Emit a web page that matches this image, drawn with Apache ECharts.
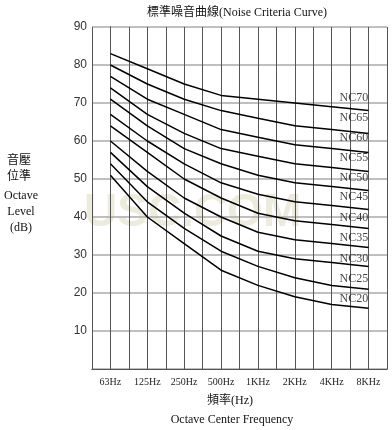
<!DOCTYPE html>
<html>
<head>
<meta charset="utf-8">
<script src="https://cdn.jsdelivr.net/npm/echarts@6/dist/echarts.min.js"></script>
<style>html,body{margin:0;padding:0;background:#fff;}#c{width:392px;height:430px;}</style>
</head>
<body>
<div id="c"></div>
<script>
// Octave band centre frequencies (x positions 0..7)
var freqLabels = ['63Hz', '125Hz', '250Hz', '500Hz', '1KHz', '2KHz', '4KHz', '8KHz'];
// NC curve names
var curveNames = ['NC70', 'NC65', 'NC60', 'NC55', 'NC50', 'NC45', 'NC40', 'NC35', 'NC30', 'NC25', 'NC20'];
// Octave band levels (dB) per curve
var nc70 = [83, 79, 75, 72, 71, 70, 69, 68];
var nc65 = [80, 75, 71, 68, 66, 64, 63, 62];
var nc60 = [77, 71, 67, 63, 61, 59, 58, 57];
var nc55 = [74, 67, 62, 58, 56, 54, 53, 52];
var nc50 = [71, 64, 58, 54, 51, 49, 48, 47];
var nc45 = [67, 60, 54, 49, 46, 44, 43, 42];
var nc40 = [64, 57, 50, 45, 41, 39, 38, 37];
var nc35 = [60, 52, 45, 40, 36, 34, 33, 32];
var nc30 = [57, 48, 41, 35, 31, 29, 28, 27];
var nc25 = [54, 44, 37, 31, 27, 24, 22, 21];
var nc20 = [51, 40, 33, 26, 22, 19, 17, 16];
var curves = [nc70, nc65, nc60, nc55, nc50, nc45, nc40, nc35, nc30, nc25, nc20];
// level (dB) at which each curve's name is written, near 4KHz-8KHz
var labelLevels = [71.35, 66.1, 60.8, 55.5, 50.3, 45.3, 39.9, 34.4, 29.1, 23.8, 18.5];
var labelBand = 6.6;
// y tick labels
var yTicks = [10, 20, 30, 40, 50, 60, 70, 80, 90];

var serif = '"Liberation Serif", "Noto Sans CJK TC", serif';
var series = curves.map(function (vals, i) {
  return {
    type: 'line',
    name: curveNames[i],
    data: vals.map(function (v, k) { return [k, v]; }),
    showSymbol: false,
    symbol: 'none',
    silent: true,
    lineStyle: { color: '#000', width: 1.5 },
    z: 5
  };
});
series.push({
  type: 'scatter',
  symbolSize: 0,
  silent: true,
  data: curveNames.map(function (n, i) { return { name: n, value: [labelBand, labelLevels[i]] }; }),
  label: {
    show: true, position: 'inside', formatter: '{b}',
    fontFamily: serif, fontSize: 12, color: '#111'
  },
  z: 6
});

var chart = echarts.init(document.getElementById('c'), null, { renderer: 'canvas' });
chart.setOption({
  animation: false,
  backgroundColor: '#fff',
  grid: { left: 92, right: 5, top: 27, bottom: 61, containLabel: false },
  xAxis: [{
    type: 'value', min: -0.5, max: 7.5, interval: 0.5,
    axisLine: { show: true, lineStyle: { color: '#555', width: 1 } },
    axisTick: { show: false },
    splitLine: { show: true, lineStyle: { color: '#555', width: 1 } },
    axisLabel: {
      margin: 8, fontFamily: serif, fontSize: 10, color: '#222',
      formatter: function (v) {
        var r = Math.round(v);
        return (Math.abs(v - r) < 1e-6 && r >= 0 && r < freqLabels.length) ? freqLabels[r] : '';
      }
    }
  }, {
    type: 'value', position: 'top', min: -0.5, max: 7.5, interval: 0.5,
    axisLine: { show: true, lineStyle: { color: '#555', width: 1 } },
    axisTick: { show: false }, axisLabel: { show: false }, splitLine: { show: false }, z: 4
  }],
  yAxis: [{
    type: 'value', min: 0, max: 90, interval: 10,
    axisLine: { show: true, lineStyle: { color: '#555', width: 1 } },
    axisTick: { show: false },
    splitLine: { show: true, lineStyle: { color: '#aaa', width: 1.5 } },
    axisLabel: {
      margin: 5, fontFamily: '"Liberation Sans", "DejaVu Sans", sans-serif', fontSize: 12, color: '#333',
      formatter: function (v) { return yTicks.indexOf(v) >= 0 ? String(v) : ''; }
    }
  }, {
    type: 'value', position: 'right', min: 0, max: 90, interval: 10,
    axisLine: { show: true, lineStyle: { color: '#555', width: 1 } },
    axisTick: { show: false }, axisLabel: { show: false }, splitLine: { show: false }, z: 4
  }],
  graphic: [
    { type: 'text', z: -10, left: 84, top: 190,
      style: { text: 'USC.COM', font: 'bold 46px "Liberation Sans", sans-serif', fill: '#ecebdc' } },
    { type: 'text', x: 237, y: 13,
      style: { text: '標準噪音曲線(Noise Criteria Curve)', font: '12px ' + serif, fill: '#111', align: 'center', verticalAlign: 'middle' } },
    { type: 'text', x: 19, y: 161,
      style: { text: '音壓', font: '12px ' + serif, fill: '#111', align: 'center', verticalAlign: 'middle' } },
    { type: 'text', x: 19, y: 177,
      style: { text: '位準', font: '12px ' + serif, fill: '#111', align: 'center', verticalAlign: 'middle' } },
    { type: 'text', x: 21, y: 196,
      style: { text: 'Octave', font: '12px ' + serif, fill: '#111', align: 'center', verticalAlign: 'middle' } },
    { type: 'text', x: 21, y: 212,
      style: { text: 'Level', font: '12px ' + serif, fill: '#111', align: 'center', verticalAlign: 'middle' } },
    { type: 'text', x: 21, y: 228,
      style: { text: '(dB)', font: '12px ' + serif, fill: '#111', align: 'center', verticalAlign: 'middle' } },
    { type: 'text', x: 230, y: 401,
      style: { text: '頻率(Hz)', font: '12px ' + serif, fill: '#111', align: 'center', verticalAlign: 'middle' } },
    { type: 'text', x: 232, y: 420,
      style: { text: 'Octave Center Frequency', font: '12px ' + serif, fill: '#111', align: 'center', verticalAlign: 'middle' } }
  ],
  series: series
});
</script>
</body>
</html>
